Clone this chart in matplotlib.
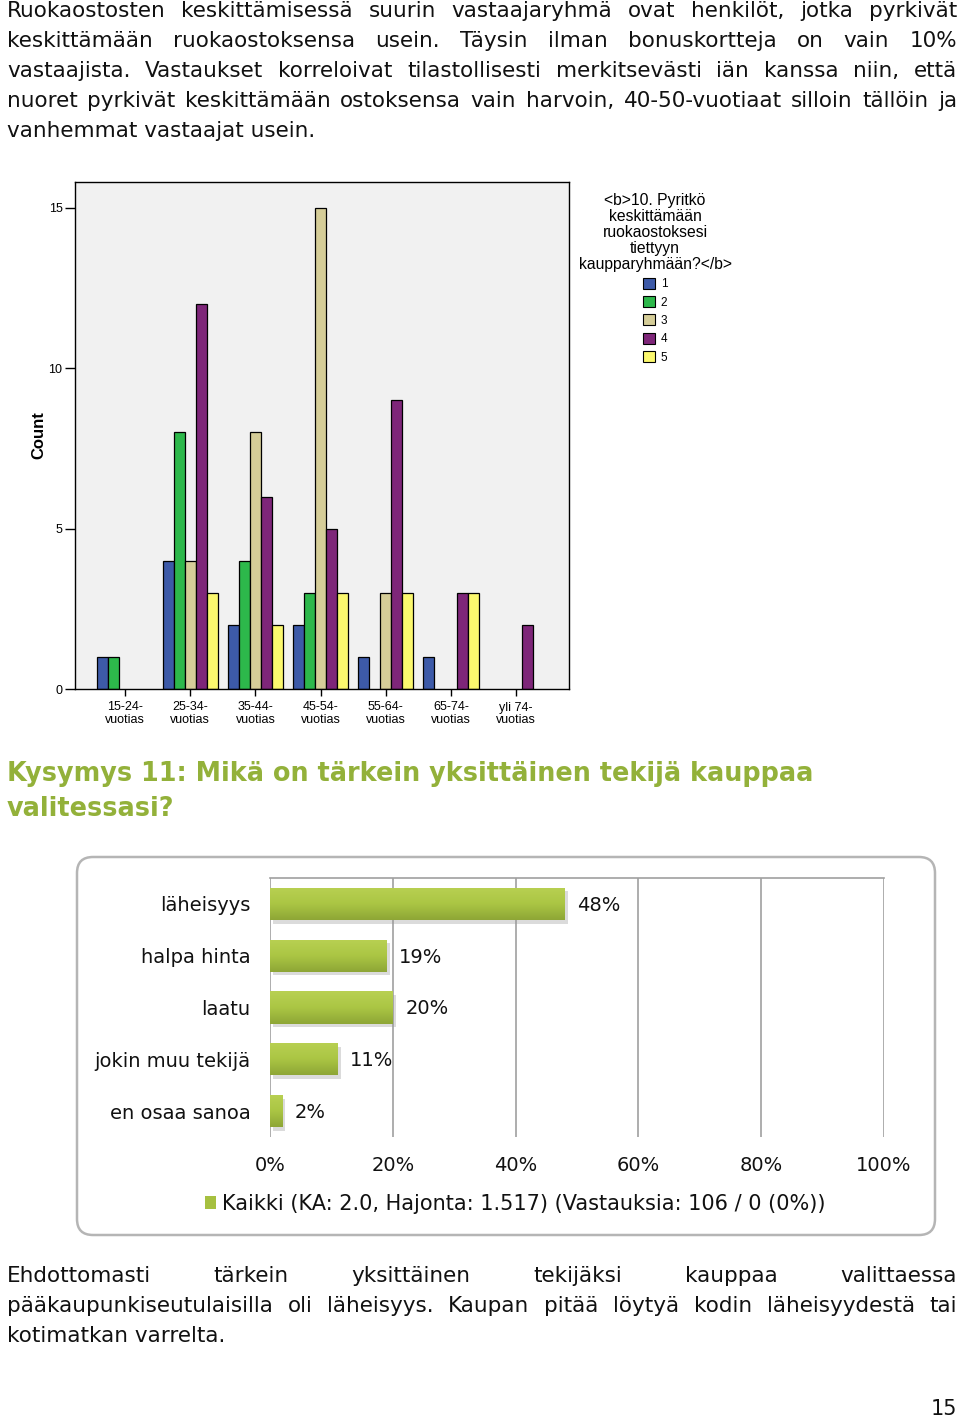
import numpy as np
import matplotlib
matplotlib.use("Agg")
import matplotlib.pyplot as plt
from matplotlib.patches import Patch, FancyBboxPatch
from matplotlib.colors import LinearSegmentedColormap

# --- page text ---
intro_lines = [
    "Ruokaostosten keskittämisessä suurin vastaajaryhmä ovat henkilöt, jotka pyrkivät",
    "keskittämään ruokaostoksensa usein. Täysin ilman bonuskortteja on vain 10%",
    "vastaajista. Vastaukset korreloivat tilastollisesti merkitsevästi iän kanssa niin, että",
    "nuoret pyrkivät keskittämään ostoksensa vain harvoin, 40-50-vuotiaat silloin tällöin ja",
    "vanhemmat vastaajat usein.",
]
heading_lines = [
    "Kysymys 11: Mikä on tärkein yksittäinen tekijä kauppaa",
    "valitessasi?",
]
outro_lines = [
    "Ehdottomasti tärkein yksittäinen tekijäksi kauppaa valittaessa",
    "pääkaupunkiseutulaisilla oli läheisyys. Kaupan pitää löytyä kodin läheisyydestä tai",
    "kotimatkan varrelta.",
]
page_number = "15"

# --- chart 1 (SPSS clustered bars) ---
age_groups = ["15-24-\nvuotias", "25-34-\nvuotias", "35-44-\nvuotias", "45-54-\nvuotias",
              "55-64-\nvuotias", "65-74-\nvuotias", "yli 74-\nvuotias"]
answers = ["1", "2", "3", "4", "5"]
count_1 = [1, 4, 2, 2, 1, 1, 0]
count_2 = [1, 8, 4, 3, 0, 0, 0]
count_3 = [0, 4, 8, 15, 3, 0, 0]
count_4 = [0, 12, 6, 5, 9, 3, 2]
count_5 = [0, 3, 2, 3, 3, 3, 0]
legend_title = "<b>10. Pyritkö\nkeskittämään\nruokaostoksesi\ntiettyyn\nkaupparyhmään?</b>"
y_ticks1 = [0, 5, 10, 15]

# --- chart 2 (horizontal bars) ---
factors = ["läheisyys", "halpa hinta", "laatu", "jokin muu tekijä", "en osaa sanoa"]
shares = [48, 19, 20, 11, 2]
x_ticks2 = [0, 20, 40, 60, 80, 100]
series_label = "Kaikki (KA: 2.0, Hajonta: 1.517) (Vastauksia: 106 / 0 (0%))"

W, H = 960, 1419
fig = plt.figure(figsize=(W / 100, H / 100), dpi=100)

# background axes in pixel coordinates
bg = fig.add_axes([0, 0, 1, 1])
bg.set_xlim(0, W)
bg.set_ylim(H, 0)
bg.axis("off")

renderer = fig.canvas.get_renderer()


def paragraph(lines, y0, dy, x0=7, x1=957, **kw):
    for i, line in enumerate(lines):
        y = y0 + i * dy
        words = line.split()
        if i == len(lines) - 1 or len(words) < 2:
            bg.text(x0, y, line, va="baseline", **kw)
            continue
        texts = [bg.text(0, y, w, va="baseline", **kw) for w in words]
        widths = [t.get_window_extent(renderer).width for t in texts]
        gap = (x1 - x0 - sum(widths)) / (len(words) - 1)
        x = x0
        for t, w in zip(texts, widths):
            t.set_x(x)
            x += w + gap


paragraph(intro_lines, 17, 30, fontsize=15.5, color="#111111")
paragraph(outro_lines, 1282, 30, fontsize=15.5, color="#111111")
for i, line in enumerate(heading_lines):
    bg.text(7, 781 + i * 35, line, fontsize=18.4, fontweight="bold",
            color="#93b13a", va="baseline")
bg.text(957, 1415, page_number, fontsize=15, ha="right", va="baseline", color="#111111")

# ---------------- chart 1 ----------------
sans = ["Liberation Sans", "DejaVu Sans"]
ax1 = fig.add_axes([75 / W, 1 - 689 / H, 494 / W, 507 / H])
ax1.set_facecolor("#f1f1f1")
colors1 = ["#3d5aa8", "#2db84b", "#d5cd98", "#7e2679", "#fbf86e"]
series = [count_1, count_2, count_3, count_4, count_5]
x = np.arange(len(age_groups))
bw = 0.169
for k, (vals, col) in enumerate(zip(series, colors1)):
    vals = np.array(vals)
    keep = vals > 0
    ax1.bar(x[keep] + (k - 2) * bw, vals[keep], width=bw, color=col,
            edgecolor="black", linewidth=0.9, zorder=2)
ax1.set_xlim(-0.767, 6.81)
ax1.set_ylim(0, 15.81)
ax1.set_xticks(x)
ax1.set_xticklabels(age_groups, fontsize=9, family=sans, linespacing=1.1)
ax1.set_yticks(y_ticks1)
ax1.set_yticklabels([str(t) for t in y_ticks1], fontsize=9, family=sans)
ax1.tick_params(axis="y", length=7, width=1, pad=2)
ax1.tick_params(axis="x", length=5, width=1, pad=4)
for s in ax1.spines.values():
    s.set_linewidth(1)
ax1.set_ylabel("Count", fontsize=12, fontweight="bold", family=sans)
ax1.yaxis.set_label_coords(-(75 - 46) / 494, 0.5)

handles = [Patch(facecolor=c, edgecolor="black", linewidth=0.8) for c in colors1]
leg = fig.legend(handles, answers, title=legend_title, loc="upper center",
                 bbox_to_anchor=(655 / W, 1 - 187 / H), frameon=False,
                 prop={"family": sans, "size": 8.5},
                 title_fontproperties={"family": sans, "size": 11.3},
                 alignment="center", handlelength=1.05, handleheight=1.05,
                 handletextpad=0.5, labelspacing=0.5, borderpad=0)
leg.get_title().set_multialignment("center")
leg.get_title().set_linespacing(1.08)

# ---------------- chart 2 ----------------
box = FancyBboxPatch((77, 857), 858, 378, boxstyle="round,pad=0,rounding_size=16",
                     facecolor="white", edgecolor="#b5b5b5", linewidth=1.8)
bg.add_patch(box)

ax2 = fig.add_axes([270 / W, 1 - 1137 / H, 614 / W, 259 / H])
ax2.patch.set_alpha(0)
y2 = np.arange(len(factors))
bh = 0.62
# drop shadow
ax2.barh(y2 + 0.07, shares, left=0.5, height=bh, color="#9a9a9a", alpha=0.35,
         linewidth=0, zorder=2)
bars = ax2.barh(y2, shares, height=bh, color="none", linewidth=0, zorder=3,
                label=series_label)
cmap = LinearSegmentedColormap.from_list("g", ["#b8d052", "#abc644", "#8ea636"])
grad = np.linspace(0, 1, 64).reshape(-1, 1)
for b in bars:
    bx, by, bwid, bht = b.get_x(), b.get_y(), b.get_width(), b.get_height()
    im = ax2.imshow(grad, cmap=cmap, aspect="auto", extent=[bx, bx + bwid, by + bht, by],
                    zorder=3, interpolation="bilinear")
    im.set_clip_path(b)
lab_fs = 14
for yi, v in zip(y2, shares):
    ax2.annotate(f"{v}%", (v, yi), xytext=(9, -1), textcoords="offset points",
                 va="center", ha="left", fontsize=lab_fs, color="#111111")
ax2.set_xlim(0, 100)
ax2.set_ylim(4.5, -0.5)
ax2.set_xticks(x_ticks2)
ax2.set_xticklabels([f"{t}%" for t in x_ticks2], fontsize=lab_fs, color="#111111")
ax2.set_yticks(y2)
ax2.set_yticklabels(factors, fontsize=lab_fs, color="#111111")
ax2.tick_params(axis="x", length=0, pad=14)
ax2.tick_params(axis="y", length=0, pad=14)
ax2.grid(axis="x", color="#a0a0a0", linewidth=1.2, zorder=1)
ax2.set_axisbelow(True)
for name in ["bottom", "left", "right"]:
    ax2.spines[name].set_visible(False)
ax2.spines["top"].set_color("#a0a0a0")
ax2.spines["top"].set_linewidth(1.2)

fig.legend([Patch(facecolor="#a6c040")], [series_label], loc="center",
           bbox_to_anchor=(515 / W, 1 - 1204 / H), frameon=False,
           fontsize=15, handlelength=0.55, handleheight=0.55, handletextpad=0.25,
           labelcolor="#111111")

fig.savefig("out.png", dpi=100)
